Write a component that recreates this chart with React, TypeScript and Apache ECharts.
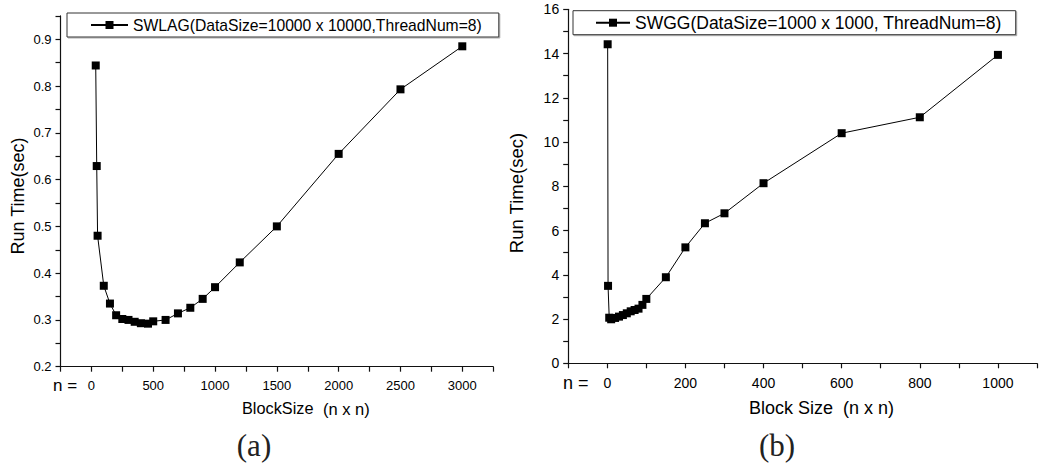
import React, { useEffect, useRef } from "react";
import * as echarts from "echarts";

// Chart (a): SWLAG
const blockSizeA = [35, 43, 50, 100, 150, 200, 250, 300, 350, 400, 458, 500, 600, 700, 800, 900, 1000, 1200, 1500, 2000, 2500, 3000];
const runTimeA = [0.844, 0.629, 0.48, 0.373, 0.335, 0.31, 0.302, 0.3, 0.296, 0.293, 0.292, 0.297, 0.3, 0.314, 0.326, 0.345, 0.37, 0.423, 0.5, 0.655, 0.793, 0.885];
const seriesNameA = "SWLAG(DataSize=10000 x 10000,ThreadNum=8)";

// Chart (b): SWGG
const blockSizeB = [1, 2, 5, 10, 20, 30, 40, 50, 60, 70, 80, 90, 100, 150, 200, 250, 300, 400, 600, 800, 1000];
const runTimeB = [14.42, 3.5, 2.06, 1.99, 2.05, 2.11, 2.18, 2.26, 2.35, 2.41, 2.47, 2.64, 2.91, 3.89, 5.24, 6.33, 6.78, 8.14, 10.4, 11.12, 13.94];
const seriesNameB = "SWGG(DataSize=1000 x 1000, ThreadNum=8)";

const FONT = "Liberation Sans, Arial, sans-serif";

export default function App() {
  const ref = useRef<HTMLDivElement>(null);
  useEffect(() => {
    if (!ref.current) return;
    const chart = echarts.init(ref.current, null, { renderer: "svg" });
    const axisLineStyle = { color: "#111", width: 1.2 };
    const mkX = (gi: number, min: number, max: number, interval: number, labelStep: number, fs: number, margin: number) => ({
      type: "value",
      gridIndex: gi,
      min,
      max,
      interval,
      axisLine: { show: true, onZero: false, lineStyle: axisLineStyle },
      axisTick: { show: true, inside: false, length: 5, lineStyle: axisLineStyle },
      axisLabel: {
        fontSize: fs,
        color: "#000",
        fontFamily: FONT,
        margin,
        formatter: (v: number) => {
          const r = Math.round(v);
          return r >= 0 && r % labelStep === 0 && r < max ? String(r) : "";
        },
      },
      splitLine: { show: false },
    });
    const option = {
      animation: false,
      grid: [
        { left: 60.5, top: 15.9, width: 432.7, height: 350.8 },
        { left: 568.2, top: 9.3, width: 481.2, height: 354 },
      ],
      xAxis: [mkX(0, -250, 3250, 250, 500, 13, 12), mkX(1, -100, 1100, 100, 200, 14, 12.5)],
      yAxis: [
        {
          type: "value",
          gridIndex: 0,
          min: 0.2,
          max: 0.95,
          interval: 0.05,
          axisLine: { show: true, onZero: false, lineStyle: axisLineStyle },
          axisTick: { show: true, inside: false, length: 5, lineStyle: axisLineStyle },
          axisLabel: {
            fontSize: 13,
            color: "#000",
            fontFamily: FONT,
            margin: 9,
            formatter: (v: number) => {
              const k = Math.round(v * 100);
              return k % 10 === 0 ? (k / 100).toFixed(1) : "";
            },
          },
          splitLine: { show: false },
        },
        {
          type: "value",
          gridIndex: 1,
          min: 0,
          max: 16,
          interval: 1,
          axisLine: { show: true, onZero: false, lineStyle: axisLineStyle },
          axisTick: { show: true, inside: false, length: 5, lineStyle: axisLineStyle },
          axisLabel: {
            fontSize: 14,
            color: "#000",
            fontFamily: FONT,
            margin: 9,
            formatter: (v: number) => (Math.round(v) % 2 === 0 ? String(Math.round(v)) : ""),
          },
          splitLine: { show: false },
        },
      ],
      legend: [
        {
          data: [seriesNameA],
          left: 67,
          top: 13,
          padding: [4, 17, 4, 23],
          itemWidth: 37,
          itemHeight: 10,
          borderColor: "#333",
          borderWidth: 1,
          backgroundColor: "#fff",
          shadowColor: "#aaa",
          shadowOffsetX: 1,
          shadowOffsetY: 1,
          selectedMode: false,
          textStyle: { fontSize: 15.7, color: "#000", fontFamily: FONT },
        },
        {
          data: [seriesNameB],
          left: 573,
          top: 10.7,
          padding: [3, 14, 3, 22],
          itemWidth: 34,
          itemHeight: 10,
          borderColor: "#333",
          borderWidth: 1,
          backgroundColor: "#fff",
          shadowColor: "#aaa",
          shadowOffsetX: 1,
          shadowOffsetY: 1,
          selectedMode: false,
          textStyle: { fontSize: 17.5, color: "#000", fontFamily: FONT },
        },
      ],
      series: [
        {
          name: seriesNameA,
          type: "line",
          xAxisIndex: 0,
          yAxisIndex: 0,
          data: blockSizeA.map((x, i) => [x, runTimeA[i]]),
          symbol: "rect",
          symbolSize: 8,
          lineStyle: { color: "#000", width: 1 },
          itemStyle: { color: "#000" },
        },
        {
          name: seriesNameB,
          type: "line",
          xAxisIndex: 1,
          yAxisIndex: 1,
          data: blockSizeB.map((x, i) => [x, runTimeB[i]]),
          symbol: "rect",
          symbolSize: 8,
          lineStyle: { color: "#000", width: 1 },
          itemStyle: { color: "#000" },
        },
      ],
      graphic: [
        {
          type: "text",
          x: 18,
          y: 196,
          rotation: Math.PI / 2,
          style: { text: "Run Time(sec)", fontSize: 18, fontFamily: FONT, fill: "#000", textAlign: "center", textVerticalAlign: "middle" },
        },
        {
          type: "text",
          x: 516,
          y: 193,
          rotation: Math.PI / 2,
          style: { text: "Run Time(sec)", fontSize: 18.5, fontFamily: FONT, fill: "#000", textAlign: "center", textVerticalAlign: "middle" },
        },
        {
          type: "text",
          x: 53,
          y: 385,
          style: { text: "n =", fontSize: 17, fontFamily: FONT, fill: "#000", textAlign: "left", textVerticalAlign: "middle" },
        },
        {
          type: "text",
          x: 563,
          y: 383,
          style: { text: "n =", fontSize: 18, fontFamily: FONT, fill: "#000", textAlign: "left", textVerticalAlign: "middle" },
        },
        {
          type: "text",
          x: 242,
          y: 408,
          style: { text: "BlockSize", fontSize: 16.3, fontFamily: FONT, fill: "#000", textAlign: "left", textVerticalAlign: "middle" },
        },
        {
          type: "text",
          x: 323,
          y: 409,
          style: { text: "(n x n)", fontSize: 16.5, fontFamily: FONT, fill: "#000", textAlign: "left", textVerticalAlign: "middle" },
        },
        {
          type: "text",
          x: 749,
          y: 408,
          style: { text: "Block Size", fontSize: 18, fontFamily: FONT, fill: "#000", textAlign: "left", textVerticalAlign: "middle" },
        },
        {
          type: "text",
          x: 843,
          y: 408,
          style: { text: "(n x n)", fontSize: 18, fontFamily: FONT, fill: "#000", textAlign: "left", textVerticalAlign: "middle" },
        },
        {
          type: "text",
          x: 254,
          y: 445,
          style: { text: "(a)", fontSize: 31, fontFamily: "Liberation Serif, serif", fill: "#222", textAlign: "center", textVerticalAlign: "middle" },
        },
        {
          type: "text",
          x: 777,
          y: 445,
          style: { text: "(b)", fontSize: 31, fontFamily: "Liberation Serif, serif", fill: "#222", textAlign: "center", textVerticalAlign: "middle" },
        },
      ],
    };
    chart.setOption(option as any);
    return () => chart.dispose();
  }, []);
  return (
    <div
      ref={ref}
      style={{ position: "fixed", left: 0, top: 0, width: 1040, height: 467, background: "#fff" }}
    />
  );
}
